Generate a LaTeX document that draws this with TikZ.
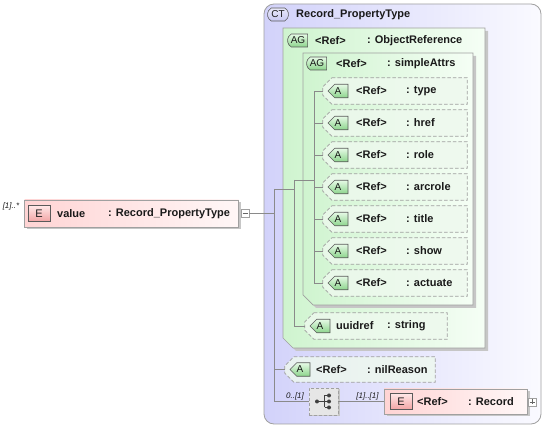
\documentclass[tikz,border=0pt]{standalone}
\usepackage{fontspec}
\setmainfont{Liberation Sans}
\usetikzlibrary{calc,shapes.misc,shadows}
\definecolor{ctL}{HTML}{D2D2FA}
\definecolor{ctR}{HTML}{FAFAFF}
\definecolor{agL}{HTML}{CFF4CF}
\definecolor{agR}{HTML}{F5FEF5}
\definecolor{shd}{HTML}{C6C6C6}
\definecolor{bord}{HTML}{A0A0A0}
\definecolor{connc}{HTML}{8A8A8A}
\definecolor{elL}{HTML}{FFD4D4}
\definecolor{elR}{HTML}{FFF7F7}
\definecolor{badgeB}{HTML}{5A5A5A}
\definecolor{aT}{HTML}{E6FAE6}
\definecolor{aB}{HTML}{8CD48C}
\definecolor{eT}{HTML}{FFE8E8}
\definecolor{eB}{HTML}{F2A4A4}
\definecolor{ctB}{HTML}{C8C8F2}
\definecolor{seqF}{HTML}{E6E6E6}
\definecolor{txt}{HTML}{1A1A1A}
\definecolor{attrF}{HTML}{EEF9EE}

\newcommand\agshape[5]{\path[#5] (#1,#2) -- (#3,#2) -- (#3,#4) -- ({#1+10},#4) -- (#1,{#4-10}) -- cycle;}
\newcommand\attrframe[1]{\path[attrline] ($(#1.north west)+(9,0)$) -- (#1.north east) -- (#1.south east) -- ($(#1.south west)+(9,0)$) -- ($(#1.south west)+(0,-9)$) -- ($(#1.north west)+(0,9)$) -- cycle;}
\newcommand\attrrow[3]{%
  \node[attrnode, minimum width=144pt] (#1) at (395,#2) {};
  \attrframe{#1}
  \node[abadge] (#1b) at (338,#2) {A};
  \node[lbl] (#1r) at (356,#2) {<Ref>};
  \node[lbl] (#1t) at (406,#2) {: #3};}

\begin{document}
\begin{tikzpicture}[x=1pt,y=-1pt,
  conn/.style={draw=connc, line width=0.8pt},
  lbl/.style={anchor=west, inner sep=0pt, font=\fontsize{11pt}{13pt}\selectfont\bfseries, text=txt},
  mult/.style={inner sep=0pt, font=\fontsize{8pt}{9pt}\selectfont\itshape, text=txt},
  attrnode/.style={rectangle, draw=none, inner sep=0pt, minimum height=26pt},
  attrline/.style={draw=bord, line width=0.7pt, dash pattern=on 3.5pt off 2pt, fill=attrF, fill opacity=0.8},
  abadge/.style={chamfered rectangle, chamfered rectangle corners={north west,south west}, chamfered rectangle xsep=3.5pt, draw=badgeB, line width=0.6pt, top color=aT, bottom color=aB, minimum width=20pt, minimum height=13pt, inner sep=0pt, font=\fontsize{10pt}{12pt}\selectfont, text=txt},
  agbadge/.style={rounded rectangle, rounded rectangle right arc=none, rounded rectangle arc length=120, draw=badgeB, line width=0.6pt, top color=aT, bottom color=aB, minimum width=20pt, minimum height=13pt, inner sep=0pt, font=\fontsize{10pt}{12pt}\selectfont, text=txt},
  ebadge/.style={rectangle, draw=badgeB, line width=0.6pt, top color=eT, bottom color=eB, minimum width=22pt, minimum height=16pt, inner sep=0pt, font=\fontsize{11pt}{13pt}\selectfont, text=txt},
  elem/.style={rectangle, draw=bord, line width=0.7pt, left color=elL, right color=elR, inner sep=0pt, drop shadow={shadow xshift=2.5pt, shadow yshift=-2.5pt, fill=shd, opacity=1}},
  expbox/.style={rectangle, draw=bord, fill=white, line width=0.6pt, minimum size=8pt, inner sep=0pt},
]
\useasboundingbox (0,0) rectangle (544,427);
\fill[white] (0,0) rectangle (544,427);

% complex type container
\path[draw=bord, line width=0.8pt, rounded corners=10pt, left color=ctL, right color=ctR] (264,4) rectangle (541,424);
\node[rounded rectangle, rounded rectangle arc length=120, draw=badgeB, line width=0.6pt, top color=ctB!40!white, bottom color=ctB, minimum width=21pt, minimum height=13pt, inner sep=0pt, font=\fontsize{10pt}{12pt}\selectfont, text=txt] (ctb) at (278,14.5) {CT};
\node[lbl] (ctt) at (296,14.5) {Record\_PropertyType};

% attribute group ObjectReference
\agshape{286}{31}{488}{351}{fill=shd}
\agshape{283}{28}{485}{348}{draw=bord, line width=0.7pt, left color=agL, right color=agR}
\node[agbadge] (ag1b) at (298,40.5) {AG};
\node[lbl] (ag1r) at (315,40.5) {<Ref>};
\node[lbl] (ag1t) at (367,40.5) {: ObjectReference};

% attribute group simpleAttrs
\agshape{306}{56}{476}{308}{fill=shd}
\agshape{303}{53}{473}{305}{draw=bord, line width=0.7pt, left color=agL, right color=agR}
\node[agbadge] (ag2b) at (317,63.5) {AG};
\node[lbl] (ag2r) at (336,63.5) {<Ref>};
\node[lbl] (ag2t) at (387,63.5) {: simpleAttrs};

% attributes
\attrrow{type}{91}{type}
\attrrow{href}{123}{href}
\attrrow{role}{155}{role}
\attrrow{arcrole}{187}{arcrole}
\attrrow{title}{219}{title}
\attrrow{show}{251}{show}
\attrrow{actuate}{283}{actuate}

% uuidref
\node[attrnode, minimum width=142pt] (uuid) at (376,326) {};
\attrframe{uuid}
\node[abadge] (uuidb) at (320,326) {A};
\node[lbl] (uuidr) at (336,326) {uuidref};
\node[lbl] (uuidt) at (387,326) {: string};

% nilReason
\node[attrnode, minimum width=150pt, minimum height=25pt] (nil) at (360,369.5) {};
\attrframe{nil}
\node[abadge] (nilb) at (300,369.5) {A};
\node[lbl] (nilr) at (316,369.5) {<Ref>};
\node[lbl] (nilt) at (367,369.5) {: nilReason};

% sequence compositor
\node[rectangle, draw=bord, line width=0.7pt, dash pattern=on 3pt off 2pt, fill=seqF, minimum width=29pt, minimum height=27pt, inner sep=0pt, drop shadow={shadow xshift=1.5pt, shadow yshift=-1.5pt, fill=shd, opacity=1}] (seq) at (323.5,401.5) {};
\draw[black!75, line width=0.7pt] ($(seq)+(-6.5,0)$) -- ($(seq)+(1,0)$);
\draw[black!75, line width=0.7pt] ($(seq)+(1,-6)$) -- ($(seq)+(1,6)$);
\foreach \dy in {-6,0,6} {\draw[black!75, line width=0.7pt] ($(seq)+(1,\dy)$) -- ($(seq)+(5,\dy)$);
  \fill[black!75] ($(seq)+(5.5,\dy)$) circle (2pt);}
\fill[black!75] ($(seq)+(-6.5,0)$) circle (2pt);

% element value
\node[elem, minimum width=214pt, minimum height=27pt] (val) at (131.5,213.5) {};
\node[ebadge] (valb) at (39,213.5) {E};
\node[lbl] (valr) at (57,213.5) {value};
\node[lbl] (valt) at (108,213.5) {: Record\_PropertyType};
\node[expbox] (valm) at (245,213.5) {};
\draw[black!60, line width=0.6pt] ($(valm.west)+(1.8,0)$) -- ($(valm.east)+(-1.8,0)$);
\node[mult] (valmult) at (11,206) {[1]..*};

% element Record
\node[elem, minimum width=143pt, minimum height=25pt] (rec) at (455.5,401.5) {};
\node[ebadge] (recb) at (401,401.5) {E};
\node[lbl] (recr) at (417,401.5) {<Ref>};
\node[lbl] (rect) at (468,401.5) {: Record};
\node[expbox] (recp) at (532,402) {};
\draw[black!60, line width=0.6pt] ($(recp.west)+(1.8,0)$) -- ($(recp.east)+(-1.8,0)$);
\draw[black!60, line width=0.6pt] ($(recp.north)+(0,1.8)$) -- ($(recp.south)+(0,-1.8)$);

% connectors
\coordinate (j1) at (274,189);
\coordinate (g1) at (294,189);
\coordinate (g1t) at (294,180);
\coordinate (g2) at (314,180);
\draw[conn] (valm.east) -- (valm.east -| j1);
\draw[conn] (j1) -- (seq.west -| j1) -- (seq.west);
\draw[conn] (j1) -- (g1);
\draw[conn] (g1t) -- (uuid.west -| g1t) -- (uuid.west);
\draw[conn] (g1t) -- (g2);
\draw[conn] (type.west) -- (type.west -| g2) -- (actuate.west -| g2) -- (actuate.west);
\foreach \n in {href,role,arcrole,title,show} {\draw[conn] (\n.west -| g2) -- (\n.west);}
\draw[conn] (nil.west -| j1) -- (nil.west);
\draw[conn] (seq.east) -- (rec.west);
\node[mult] (seqmult) at (295,396) {0..[1]};
\node[mult] (recmult) at (367.5,396) {[1]..[1]};
\end{tikzpicture}
\end{document}
